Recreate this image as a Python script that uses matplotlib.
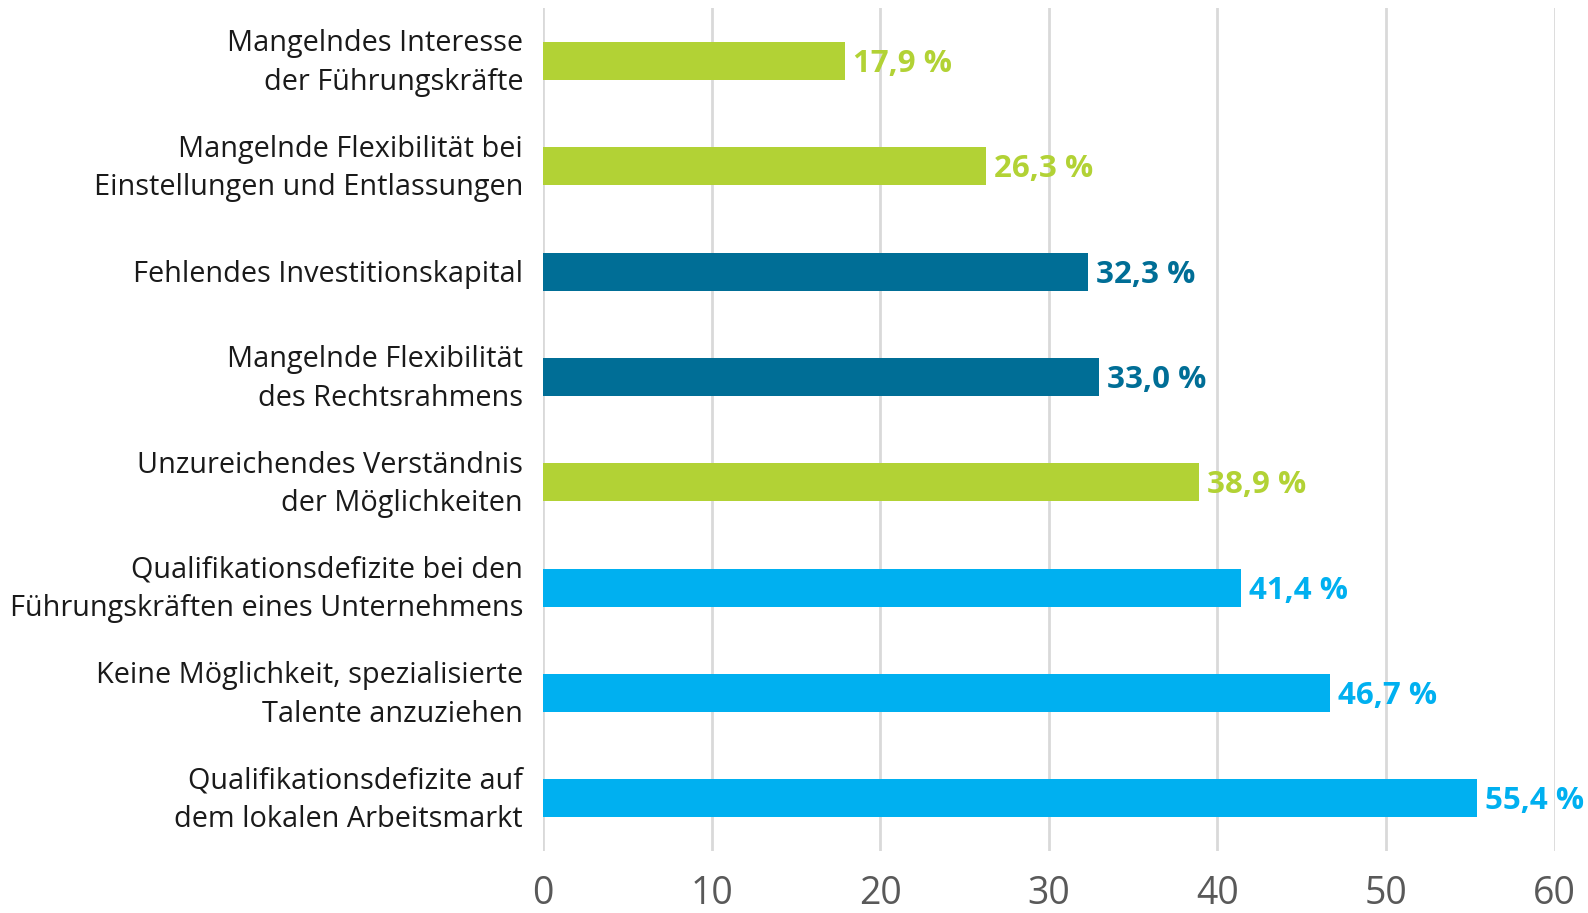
import matplotlib.pyplot as plt
from matplotlib import transforms

plt.rcParams['font.family'] = ['Open Sans', 'DejaVu Sans']

# Daten (von unten nach oben)
kategorien = [
    'Qualifikationsdefizite auf\ndem lokalen Arbeitsmarkt',
    'Keine Möglichkeit, spezialisierte\nTalente anzuziehen',
    'Qualifikationsdefizite bei den\nFührungskräften eines Unternehmens',
    'Unzureichendes Verständnis\nder Möglichkeiten',
    'Mangelnde Flexibilität\ndes Rechtsrahmens',
    'Fehlendes Investitionskapital',
    'Mangelnde Flexibilität bei\nEinstellungen und Entlassungen',
    'Mangelndes Interesse\nder Führungskräfte',
]
werte = [55.4, 46.7, 41.4, 38.9, 33.0, 32.3, 26.3, 17.9]
gruppen = ['hell', 'hell', 'hell', 'gruen', 'dunkel', 'dunkel', 'gruen', 'gruen']
x_ticks = [0, 10, 20, 30, 40, 50, 60]

farben = {'hell': '#00b0f0', 'dunkel': '#006e96', 'gruen': '#b2d235'}

fig = plt.figure(figsize=(15.88, 9.13), dpi=100)
ax = fig.add_axes([0.342, 0.068, 0.637, 0.923])

pos = list(range(len(werte)))
cols = [farben[g] for g in gruppen]
ax.barh(pos, werte, height=0.36, color=cols, zorder=3)

# Wertebeschriftungen
versatz = transforms.offset_copy(ax.transData, fig=fig, x=8, y=-3, units='dots')
for p, w, c in zip(pos, werte, cols):
    txt = f'{w:.1f}'.replace('.', ',') + ' %'
    ax.text(w, p, txt, transform=versatz, va='center', ha='left',
            fontsize=22.5, fontweight='bold', color=c, zorder=4)

# Kategorienbeschriftungen links
for p, k in zip(pos, kategorien):
    dy = -2 if '\n' in k else -3
    tr = transforms.offset_copy(ax.get_yaxis_transform(), fig=fig, x=-20, y=dy, units='dots')
    ax.text(0, p, k, transform=tr, ha='right', va='center', multialignment='right',
            fontsize=20.8, color='#1a1a1a', linespacing=1.42)

ax.set_xlim(0, 60)
ax.set_ylim(-0.5, 7.5)
ax.set_xticks(x_ticks)
ax.set_yticks([])
ax.tick_params(axis='x', labelsize=27, colors='#595959', length=0, pad=17)
ax.grid(axis='x', color='#d9d9d9', linewidth=2, zorder=0)
for s in ax.spines.values():
    s.set_visible(False)

fig.savefig('out.png', dpi=100)
